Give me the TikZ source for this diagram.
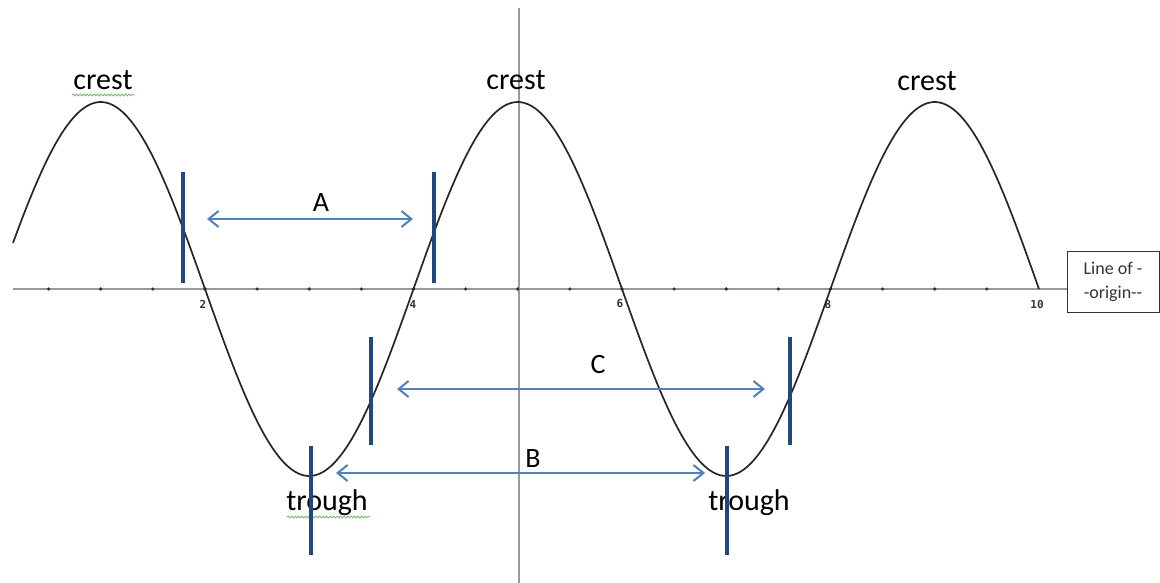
\documentclass[tikz,border=0pt]{standalone}
\usepackage{fontspec}
\setmainfont{Carlito}
\newfontfamily\tickfont{DejaVu Sans Mono}
\usepackage{tikz}
\usetikzlibrary{arrows.meta,decorations.pathmorphing}
\definecolor{barblue}{RGB}{31,73,125}
\definecolor{arrblue}{RGB}{79,129,189}
\definecolor{spellgreen}{RGB}{120,185,110}

\begin{document}
\begin{tikzpicture}[x=1pt, y=-1pt,
  lbl/.style={font=\fontsize{30}{30}\selectfont, text=black, inner sep=0pt},
  letter/.style={font=\fontsize{28}{28}\selectfont, text=black, inner sep=0pt},
  tick/.style={font=\tickfont\bfseries\fontsize{11}{11}\selectfont, text=black!80, inner sep=0pt},
  axis/.style={gray!80, line width=1.4pt},
  wave/.style={black!85, line width=1.7pt},
  bar/.style={barblue, line width=4.5pt},
  span/.style={arrblue, line width=2pt,
               {Straight Barb[length=10pt,width=16pt]}-{Straight Barb[length=10pt,width=16pt]}},
  spell/.style={spellgreen, line width=0.8pt, decorate,
                decoration={snake, segment length=3.5pt, amplitude=1pt}}]

\useasboundingbox (0,0) rectangle (1160,583);

% axes
\node[draw, black!80, line width=1pt, minimum width=92pt, minimum height=61pt,
      align=center, font=\fontsize{18}{24}\selectfont] (origin) at (1113,281.5)
  {Line of -\\-origin-{}-};
\coordinate (axisL) at (13,289);
\coordinate (vtop)  at (519,8);
\coordinate (vbot)  at (519,583);
\draw[axis] (axisL) -- (origin.west |- axisL);
\draw[axis, line width=1.2pt] (vtop) -- (vbot);
\foreach \u in {1,...,19}
  \fill[black!80] ({-3.5+\u*52.125},289) circle (1.8pt);
\foreach \n/\xx in {2/203, 4/413, 6/620, 8/828, 10/1037}
  \node[tick] (t\n) at (\xx,304) {\n};

% the wave
\draw[wave] plot[domain=13:1039, samples=300, smooth]
  (\x, {289-187*cos((\x+3.5)*0.863309-90)});

% labels
\node[lbl] (crestL)  at (103,80)  {crest};
\node[lbl] (crestM)  at (516,80)  {crest};
\node[lbl] (crestR)  at (927,81)  {crest};
\node[lbl] (troughL) at (327,503) {trough};
\node[lbl] (troughR) at (749,503) {trough};
\draw[spell] (72,95) -- (135,95);
\draw[spell] (287,517) -- (370,517);

% marker bars
\coordinate (a1top) at (183,172); \coordinate (a1bot) at (183,283);
\coordinate (a2top) at (434,172); \coordinate (a2bot) at (434,283);
\coordinate (c1top) at (371,337); \coordinate (c1bot) at (371,445);
\coordinate (c2top) at (790,337); \coordinate (c2bot) at (790,445);
\coordinate (b1top) at (311,446); \coordinate (b1bot) at (311,555);
\coordinate (b2top) at (727,446); \coordinate (b2bot) at (727,555);
\foreach \p in {a1,a2,c1,c2,b1,b2}
  \draw[bar] (\p top) -- (\p bot);

% spans
\coordinate (aL) at (207,219); \coordinate (aR) at (413,219);
\coordinate (cL) at (397,389); \coordinate (cR) at (765,389);
\coordinate (bL) at (336,473); \coordinate (bR) at (705,473);
\draw[span] (aL) -- (aR);
\draw[span] (cL) -- (cR);
\draw[span] (bL) -- (bR);
\node[letter] (lblA) at (321,203) {A};
\node[letter] (lblC) at (598,365) {C};
\node[letter] (lblB) at (533,459) {B};
\end{tikzpicture}
\end{document}
